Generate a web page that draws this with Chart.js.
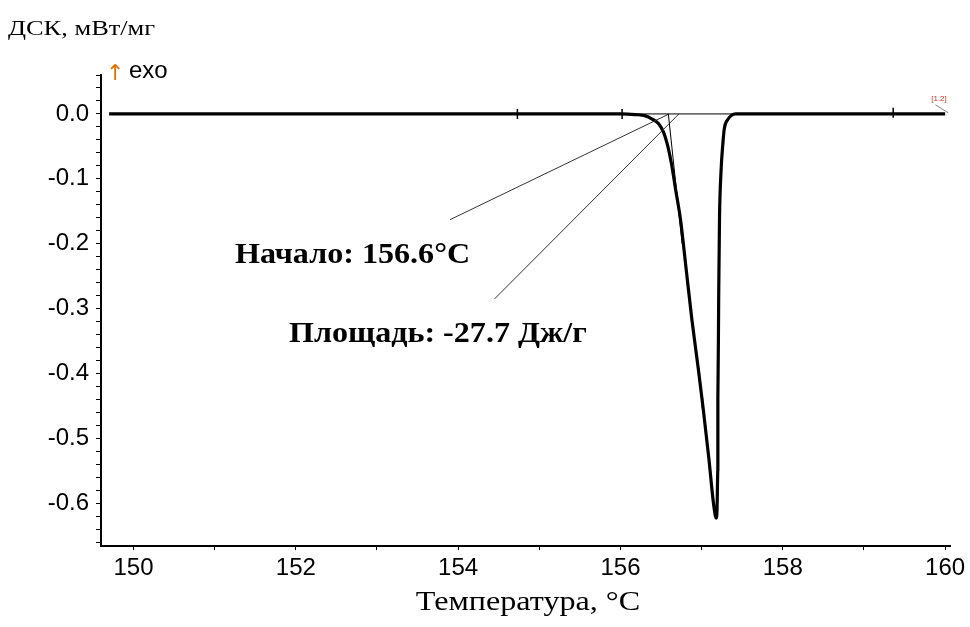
<!DOCTYPE html>
<html>
<head>
<meta charset="utf-8">
<script src="https://cdn.jsdelivr.net/npm/chart.js@4.4.1/dist/chart.umd.min.js"></script>
<style>
  html, body { margin: 0; padding: 0; background: #fff; }
</style>
</head>
<body>
<canvas id="grafico" width="970" height="627"></canvas>
<script>
// Кривая ДСК: температура (°C) и тепловой поток (мВт/мг)
const temperatura = [149.70, 150.5, 151.5, 152.5, 153.5, 154.5, 155.2, 155.7, 156.00, 156.18, 156.31, 156.39, 156.47, 156.53,
  156.58, 156.63, 156.68, 156.74, 156.81, 156.88, 156.96, 157.02, 157.09, 157.14, 157.17, 157.18,
  157.19, 157.20, 157.20, 157.21, 157.22, 157.24, 157.26, 157.28, 157.32, 157.37, 157.42, 158.0, 159.0, 160.0];
const dsk = [0.000, 0.000, 0.000, 0.000, 0.000, 0.000, 0.000, 0.000, 0.000, -0.001, -0.003, -0.008, -0.015, -0.028,
  -0.048, -0.078, -0.117, -0.163, -0.240, -0.317, -0.394, -0.455, -0.532, -0.594, -0.620, -0.623,
  -0.609, -0.548, -0.440, -0.286, -0.163, -0.086, -0.048, -0.022, -0.009, -0.002, 0.000, 0.000, 0.000, 0.000];

// Вспомогательные линии обработки пика
const lineaBase = [[156.0, 0], [157.42, 0]];
const tangente = [[156.59, 0], [156.76, -0.2]];
const flechaInicio = [[156.60, 0], [153.90, -0.163]];
const flechaArea = [[156.72, 0], [154.45, -0.285]];
const marcas = [[154.73, 0], [156.02, 0], [159.36, 0.002], [157.01, -0.446]];
const lineaEtiqueta = [[159.88, 0.014], [160.04, 0.0015]];

const pares = (xs, ys) => xs.map((x, i) => ({ x: x, y: ys[i] }));
const puntos = arr => arr.map(p => ({ x: p[0], y: p[1] }));

function linea(datos, ancho, color) {
  return {
    data: puntos(datos),
    borderColor: color,
    borderWidth: ancho,
    pointRadius: 0,
    showLine: true,
    tension: 0
  };
}

// texto estirado en horizontal, como en la imagen original
function texto(c, t, x, y, fuente, sx, alinear) {
  c.save();
  c.font = fuente;
  c.textAlign = alinear || 'left';
  c.translate(x, y);
  c.scale(sx, 1);
  c.fillText(t, 0, 0);
  c.restore();
}

// Textos del gráfico dibujados sobre el lienzo
const textos = {
  id: 'textos',
  afterDraw(chart) {
    const c = chart.ctx;
    c.save();
    c.fillStyle = '#000';
    c.textBaseline = 'alphabetic';
    texto(c, 'ДСК, мВт/мг', 8, 35, '22px "Liberation Serif"', 1.2);
    c.fillStyle = '#e07000';
    texto(c, '↑', 106, 80, '22px "DejaVu Sans"', 1);
    c.fillStyle = '#000';
    texto(c, 'exo', 129, 78, '24px "Liberation Sans"', 1);
    texto(c, 'Начало: 156.6°C', 235, 263, 'bold 30px "Liberation Serif"', 1.07);
    texto(c, 'Площадь: -27.7 Дж/г', 289, 342, 'bold 30px "Liberation Serif"', 1.07);
    texto(c, 'Температура, °C', 528, 610, '27px "Liberation Serif"', 1.19, 'center');
    c.fillStyle = '#c0392b';
    texto(c, '[1.2]', 939, 101, '8px "Liberation Sans"', 1, 'center');
    c.restore();
  }
};

let ctx = document.getElementById('grafico').getContext('2d');
let grafico = new Chart(ctx, {
  type: 'scatter',
  data: {
    datasets: [
      linea(lineaBase, 1, '#000'),
      linea(tangente, 1, '#000'),
      linea(flechaInicio, 1, '#333'),
      linea(flechaArea, 1, '#333'),
      linea(lineaEtiqueta, 1, '#888'),
      {
        data: pares(temperatura, dsk),
        borderColor: '#000',
        borderWidth: 3.2,
        pointRadius: 0,
        showLine: true,
        cubicInterpolationMode: 'monotone'
      },
      {
        data: puntos(marcas),
        pointStyle: 'line',
        rotation: 90,
        pointRadius: 5,
        borderColor: '#000',
        borderWidth: 1.5,
        showLine: false
      }
    ]
  },
  options: {
    responsive: false,
    animation: false,
    layout: { padding: { left: 0, right: 20, top: 75, bottom: 30 } },
    plugins: {
      legend: { display: false },
      tooltip: { enabled: false }
    },
    scales: {
      x: {
        type: 'linear',
        min: 149.6,
        max: 160.06,
        afterFit: s => { s.height = 51; },
        border: { display: true, color: '#000', width: 2 },
        grid: { drawOnChartArea: false, drawTicks: true, tickLength: 4, color: '#000', tickColor: '#000' },
        ticks: {
          stepSize: 1,
          autoSkip: false,
          includeBounds: false,
          maxRotation: 0,
          padding: 4,
          color: '#000',
          font: { family: 'Liberation Sans', size: 24 },
          callback: v => (Math.round(v) % 2 === 0 ? String(Math.round(v)) : '')
        }
      },
      y: {
        type: 'linear',
        min: -0.666,
        max: 0.06,
        afterFit: s => { s.width = 101; },
        border: { display: true, color: '#000', width: 2 },
        grid: { drawOnChartArea: false, drawTicks: true, tickLength: 5, color: '#000', tickColor: '#000' },
        ticks: {
          stepSize: 0.02,
          autoSkip: false,
          includeBounds: false,
          padding: 7,
          color: '#000',
          font: { family: 'Liberation Sans', size: 24 },
          callback: v => {
            const d = Math.round(v * 50);
            if (d % 5 !== 0) return '';
            const t = d / 50;
            return t === 0 ? '0.0' : t.toFixed(1);
          }
        }
      }
    }
  },
  plugins: [textos]
});
</script>
</body>
</html>
